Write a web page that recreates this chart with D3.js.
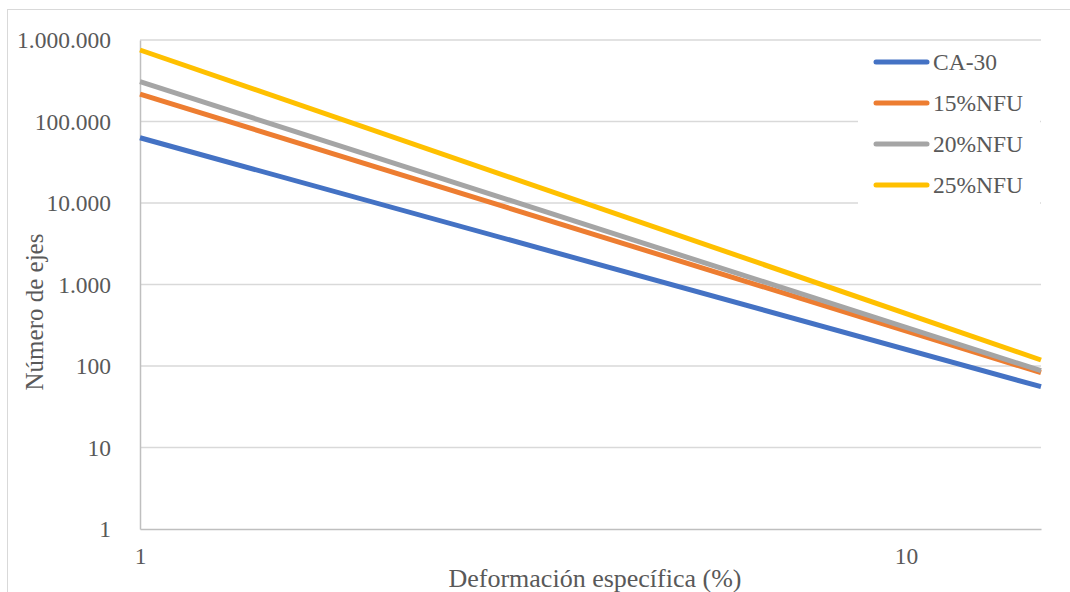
<!DOCTYPE html>
<html>
<head>
<meta charset="utf-8">
<script src="https://cdn.jsdelivr.net/npm/d3@7"></script>
<style>
  html, body { margin: 0; padding: 0; background: #fff; }
  svg { display: block; }
</style>
</head>
<body>
<svg id="chart" width="1070" height="592"></svg>
<script>
// Deformación específica (%) at the ends of each fitted line
const deformacion = [1, 15];

// Número de ejes for each mix, at the deformations above
const seriesNames = ["CA-30", "15%NFU", "20%NFU", "25%NFU"];
const ca30   = [63200, 55.7];
const nfu15  = [217000, 82.8];
const nfu20  = [308000, 87.5];
const nfu25  = [754000, 118.5];
const seriesValues = [ca30, nfu15, nfu20, nfu25];
const seriesColors = ["#4472C4", "#ED7D31", "#A5A5A5", "#FFC000"];

const yTicks = [1, 10, 100, 1000, 10000, 100000, 1000000];
const xTicks = [1, 10];

const FONT = "Liberation Serif";
const TEXT = "#595959";

const svg = d3.select("#chart").style("font-family", FONT);
const W = 1070, H = 592;
const plot = { left: 140, right: 1041, top: 40, bottom: 529 };

// chart frame
svg.append("rect")
  .attr("x", 7.5).attr("y", 9.5)
  .attr("width", W).attr("height", H)
  .attr("fill", "#fff").attr("stroke", "#d9d9d9").attr("stroke-width", 1);

const x = d3.scaleLog().domain([1, 15]).range([plot.left, plot.right]);
const y = d3.scaleLog().domain([1, 1000000]).range([plot.bottom, plot.top]);

const es = d3.formatLocale({ decimal: ",", thousands: ".", grouping: [3], currency: ["", ""] });
const fmt = es.format(",d");

// horizontal gridlines
svg.append("g")
  .selectAll("line")
  .data(yTicks.filter(d => d > 1))
  .join("line")
  .attr("x1", plot.left).attr("x2", plot.right)
  .attr("y1", d => y(d)).attr("y2", d => y(d))
  .attr("stroke", "#d9d9d9").attr("stroke-width", 1.5);

// y axis
const yAxis = svg.append("g")
  .attr("transform", `translate(${plot.left},0)`)
  .call(d3.axisLeft(y).tickValues(yTicks).tickFormat(fmt).tickSize(0).tickPadding(29));
yAxis.attr("font-family", null).attr("font-size", null);
yAxis.select(".domain").attr("stroke", "#bfbfbf").attr("stroke-width", 1.5);
yAxis.selectAll("text")
  .attr("fill", TEXT)
  .style("font-family", FONT)
  .style("font-size", "23.5px");

// x axis
const xAxis = svg.append("g")
  .attr("transform", `translate(0,${plot.bottom})`)
  .call(d3.axisBottom(x).tickValues(xTicks).tickFormat(d3.format("d")).tickSize(0).tickPadding(18));
xAxis.attr("font-family", null).attr("font-size", null);
xAxis.select(".domain").attr("stroke", "#bfbfbf").attr("stroke-width", 1.5);
xAxis.selectAll("text")
  .attr("fill", TEXT)
  .style("font-family", FONT)
  .style("font-size", "23.5px");

// axis titles
svg.append("text")
  .attr("transform", "translate(43,312) rotate(-90)")
  .attr("text-anchor", "middle")
  .attr("fill", TEXT)
  .style("font-family", FONT)
  .style("font-size", "25px")
  .text("Número de ejes");

svg.append("text")
  .attr("x", 595).attr("y", 587)
  .attr("text-anchor", "middle")
  .attr("fill", TEXT)
  .style("font-family", FONT)
  .style("font-size", "26px")
  .text("Deformación específica (%)");

// series lines
const line = d3.line()
  .x((d, i) => x(deformacion[i]))
  .y(d => y(d));

svg.append("g")
  .selectAll("path")
  .data(seriesValues)
  .join("path")
  .attr("d", d => line(d))
  .attr("fill", "none")
  .attr("stroke", (d, i) => seriesColors[i])
  .attr("stroke-width", 5)
  .attr("stroke-linecap", "butt");

// legend
const legend = svg.append("g");
legend.append("rect")
  .attr("x", 858).attr("y", 45)
  .attr("width", 182).attr("height", 162)
  .attr("fill", "#fff");

const rows = legend.selectAll("g.row")
  .data(seriesNames)
  .join("g")
  .attr("class", "row")
  .attr("transform", (d, i) => `translate(0,${62 + i * 41})`);

rows.append("line")
  .attr("x1", 876).attr("x2", 927)
  .attr("y1", 0).attr("y2", 0)
  .attr("stroke", (d, i) => seriesColors[i])
  .attr("stroke-width", 5)
  .attr("stroke-linecap", "round");

rows.append("text")
  .attr("x", 933).attr("y", 0)
  .attr("dy", "0.35em")
  .attr("fill", TEXT)
  .style("font-family", FONT)
  .style("font-size", "23.5px")
  .text(d => d);
</script>
</body>
</html>
